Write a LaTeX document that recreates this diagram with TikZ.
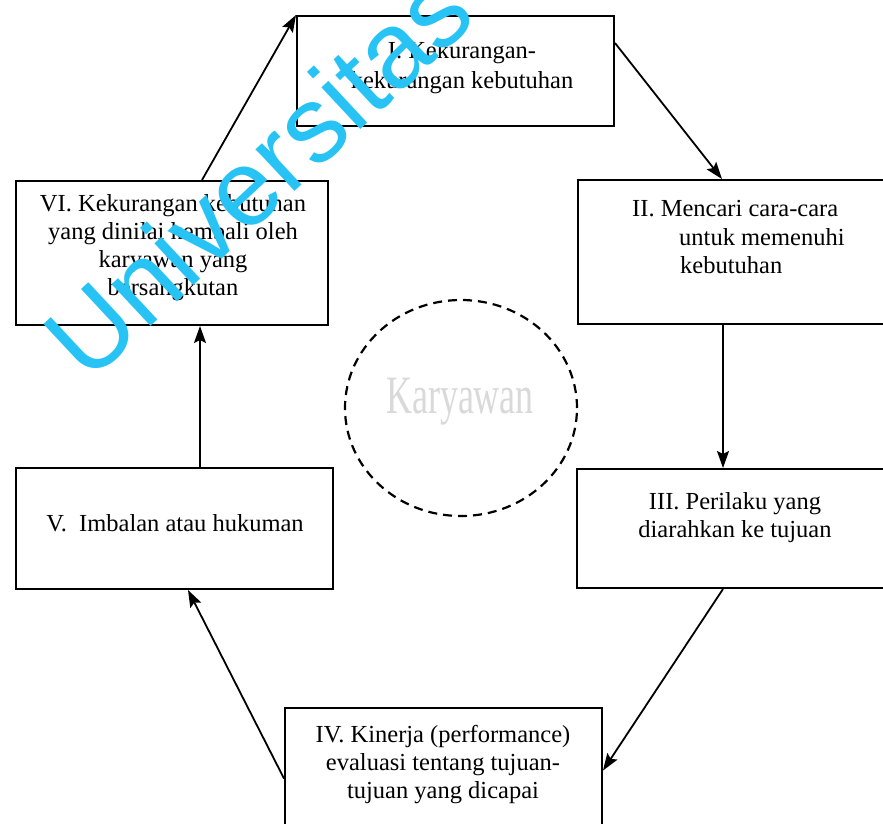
\documentclass[tikz,border=0pt]{standalone}
\usepackage{fontspec}
\setmainfont{Liberation Serif}
\newfontfamily\wmfont{Liberation Sans}
\usetikzlibrary{arrows.meta,shapes.geometric}
\definecolor{wmcyan}{RGB}{40,195,245}
\begin{document}
\begin{tikzpicture}[x=1pt,y=-1pt,
  box/.style={draw, line width=2pt, rectangle, inner sep=0pt},
  txt/.style={align=center, inner sep=0pt, font=\fontsize{24.5}{28}\selectfont},
  arr/.style={line width=1.8pt, -{Stealth[length=17pt,width=12pt,inset=3pt]}}]
\useasboundingbox (0,0) rectangle (883,823);
\clip (0,0) rectangle (883,823);
\fill[white] (0,0) rectangle (883,823);
% boxes
\node[box, minimum width=317pt, minimum height=110pt] (I)   at (455.5,71) {};
\node[box, minimum width=315pt, minimum height=144pt] (II)  at (735.5,252) {};
\node[box, minimum width=315pt, minimum height=119pt] (III) at (734.5,528.5) {};
\node[box, minimum width=317pt, minimum height=125pt] (IV)  at (443.5,770.5) {};
\node[box, minimum width=317pt, minimum height=121pt] (V)   at (174.5,528.5) {};
\node[box, minimum width=312pt, minimum height=144pt] (VI)  at (172,253) {};
% texts
\node[txt, font=\fontsize{24.5}{30}\selectfont] (tI) at (462,68) {I. Kekurangan-\\kekurangan kebutuhan};
\node[txt, align=left, anchor=west] (tII) at (632,237) {II. Mencari cara-cara\\\hspace*{47pt}untuk memenuhi\\\hspace*{48pt}kebutuhan};
\node[txt] (tIII) at (735,518) {III. Perilaku yang\\diarahkan ke tujuan};
\node[txt] (tIV) at (443,765) {IV. Kinerja (performance)\\evaluasi tentang tujuan-\\tujuan yang dicapai};
\node[txt] (tV) at (175,523) {V.\ \ Imbalan atau hukuman};
\node[txt] (tVI) at (173,248) {VI. Kekurangan kebutuhan\\yang dinilai kembali oleh\\karyawan yang\\bersangkutan};
% centre
\node[draw, ellipse, dash pattern=on 9pt off 6pt, line width=2.2pt,
      minimum width=232pt, minimum height=216pt, inner sep=0pt] (K) at (461,408) {};
\node[inner sep=0pt, text=gray!30, font=\fontsize{36}{40}\selectfont, yscale=1.5] (tK) at (460,402) {Karyawan};
% arrows
\draw[arr] ([xshift=30pt]VI.north) -- (I.north west);
\draw[arr] ([yshift=28pt]I.east) -- ([xshift=-13.5pt]II.north);
\draw[arr] ([xshift=-12.5pt]II.south) -- ([xshift=-12.5pt]II.south |- III.north);
\draw[arr] ([xshift=-11.5pt]III.south) -- (IV.east);
\draw[arr] ([yshift=-8pt]IV.west) -- ([xshift=13.5pt]V.south);
\draw[arr] ([xshift=25.5pt]V.north) -- ([xshift=25.5pt]V.north |- VI.south);
% watermark
\node[text=wmcyan, inner sep=0pt, rotate=43, font=\wmfont\fontsize{108}{112}\selectfont] (wm) at (257,174) {Universitas};
\end{tikzpicture}
\end{document}
